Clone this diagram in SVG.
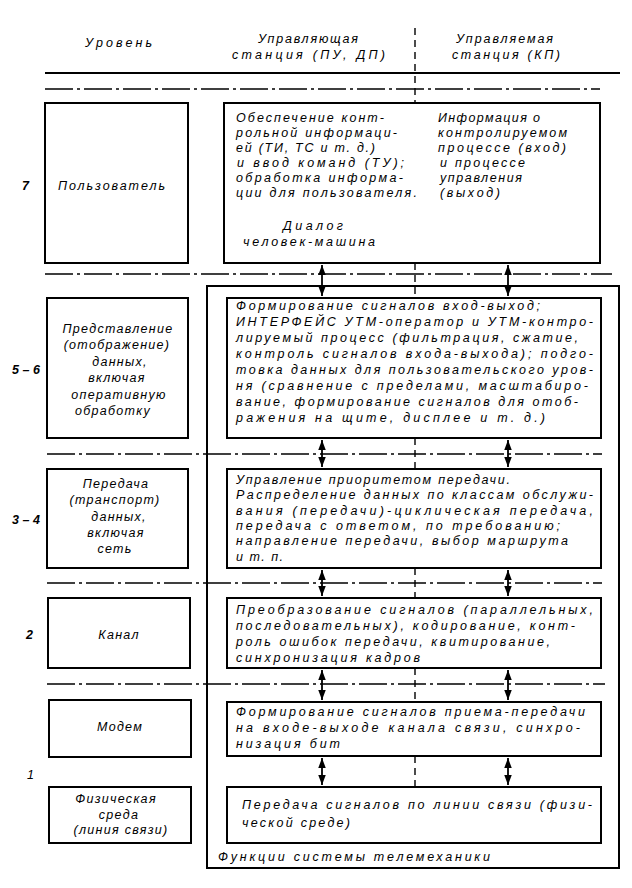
<svg xmlns="http://www.w3.org/2000/svg" width="632" height="888" viewBox="0 0 632 888">
<style>
.bg{fill:#fff}
.box{fill:none;stroke:#000;stroke-width:2}
.sol{stroke:#000;stroke-width:2;fill:none}
.dd{stroke:#000;stroke-width:1.6;stroke-dasharray:28 4 3 4;fill:none}
.ctr{stroke:#000;stroke-width:1.4;stroke-dasharray:7 5;fill:none}
.arr{stroke:#000;stroke-width:1.8;fill:none;marker-start:url(#ah);marker-end:url(#ah)}
.t{font-family:"Liberation Sans",Arial,sans-serif;font-style:italic;font-size:12.5px;fill:#000}
.c{text-anchor:middle;letter-spacing:1.3px}
.lv{font-weight:bold}
</style>
<defs>
<marker id="ah" markerUnits="userSpaceOnUse" markerWidth="10" markerHeight="8" refX="8" refY="3" orient="auto-start-reverse" viewBox="0 0 8 6">
<path d="M0,0 L8,3 L0,6 z" fill="#000"/>
</marker>
</defs>
<rect class="bg" x="0" y="0" width="632" height="888"/>

<g id="header">
<text class="t" x="85" y="47" textLength="67" lengthAdjust="spacing">Уровень</text>
<text class="t" x="258" y="43" textLength="100" lengthAdjust="spacing">Управляющая</text>
<text class="t" x="232" y="59" textLength="153" lengthAdjust="spacing">станция (ПУ, ДП)</text>
<text class="t" x="456" y="43" textLength="97" lengthAdjust="spacing">Управляемая</text>
<text class="t" x="452" y="59" textLength="108" lengthAdjust="spacing">станция (КП)</text>
</g>

<g id="grid">
<line class="sol" x1="45" y1="73" x2="620" y2="73"/>
<line class="dd" x1="45" y1="89" x2="600" y2="89"/>
<line class="dd" x1="45" y1="274" x2="612" y2="274"/>
<line class="dd" x1="47" y1="454" x2="602" y2="454"/>
<line class="dd" x1="47" y1="583" x2="602" y2="583"/>
<line class="dd" x1="47" y1="684" x2="605" y2="684"/>
<line class="ctr" x1="415" y1="28" x2="415" y2="103"/>
<line class="ctr" x1="415" y1="263" x2="415" y2="298"/>
<line class="ctr" x1="415" y1="438" x2="415" y2="469"/>
<line class="ctr" x1="415" y1="568" x2="415" y2="598"/>
<line class="ctr" x1="415" y1="668" x2="415" y2="702"/>
<line class="ctr" x1="415" y1="756" x2="415" y2="787"/>
</g>

<g id="levels">
<text class="t lv" x="22" y="190">7</text>
<text class="t lv" x="12" y="374" textLength="28" lengthAdjust="spacing">5–6</text>
<text class="t lv" x="12" y="524" textLength="28" lengthAdjust="spacing">3–4</text>
<text class="t lv" x="26" y="639">2</text>
<text class="t" x="27" y="779">1</text>
</g>

<g id="left-user">
<rect class="box" x="45" y="103" width="143" height="160"/>
<text class="t" x="58" y="190" textLength="107" lengthAdjust="spacing">Пользователь</text>
</g>
<g id="left-present">
<rect class="box" x="47" y="298" width="141" height="140"/>
<text class="t c" x="118" y="333">Представление</text>
<text class="t c" x="117" y="349">(отображение)</text>
<text class="t c" x="120" y="366">данных,</text>
<text class="t c" x="117" y="382">включая</text>
<text class="t c" x="119" y="399">оперативную</text>
<text class="t c" x="113" y="415">обработку</text>
</g>
<g id="left-transport">
<rect class="box" x="47" y="469" width="141" height="99"/>
<text class="t c" x="116" y="488">Передача</text>
<text class="t c" x="115" y="504">(транспорт)</text>
<text class="t c" x="119" y="521">данных,</text>
<text class="t c" x="116" y="537">включая</text>
<text class="t c" x="115" y="553">сеть</text>
</g>
<g id="left-channel">
<rect class="box" x="48" y="598" width="142" height="70"/>
<text class="t c" x="119" y="639">Канал</text>
</g>
<g id="left-modem">
<rect class="box" x="49" y="700" width="142" height="57"/>
<text class="t c" x="120" y="731">Модем</text>
</g>
<g id="left-phys">
<rect class="box" x="49" y="787" width="142" height="56"/>
<text class="t c" x="116" y="803">Физическая</text>
<text class="t c" x="119" y="819">среда</text>
<text class="t c" x="121" y="834">(линия связи)</text>
</g>

<g id="user-box">
<rect class="box" x="224" y="103" width="376" height="160"/>
<text class="t" x="236" y="122" textLength="148" lengthAdjust="spacing">Обеспечение конт-</text>
<text class="t" x="236" y="137" textLength="161" lengthAdjust="spacing">рольной информаци-</text>
<text class="t" x="236" y="152" textLength="139" lengthAdjust="spacing">ей (ТИ, ТС и т. д.)</text>
<text class="t" x="237" y="167" textLength="167" lengthAdjust="spacing">и ввод команд (ТУ);</text>
<text class="t" x="236" y="182" textLength="167" lengthAdjust="spacing">обработка информа-</text>
<text class="t" x="236" y="197" textLength="181" lengthAdjust="spacing">ции для пользователя.</text>
<text class="t" x="438" y="122" textLength="102" lengthAdjust="spacing">Информация о</text>
<text class="t" x="438" y="137" textLength="129" lengthAdjust="spacing">контролируемом</text>
<text class="t" x="438" y="152" textLength="128" lengthAdjust="spacing">процессе (вход)</text>
<text class="t" x="440" y="167" textLength="85" lengthAdjust="spacing">и процессе</text>
<text class="t" x="440" y="182" textLength="82" lengthAdjust="spacing">управления</text>
<text class="t" x="440" y="197" textLength="60" lengthAdjust="spacing">(выход)</text>
<text class="t" x="283" y="230" textLength="60" lengthAdjust="spacing">Диалог</text>
<text class="t" x="243" y="246" textLength="132" lengthAdjust="spacing">человек-машина</text>
</g>

<g id="functions-frame">
<rect class="box" x="207" y="286" width="412" height="582"/>
<text class="t" x="218" y="861" textLength="272" lengthAdjust="spacing">Функции системы телемеханики</text>
</g>

<g id="fn-present">
<rect class="box" x="227" y="298" width="374" height="140"/>
<text class="t" x="236" y="310" textLength="304" lengthAdjust="spacing">Формирование сигналов вход-выход;</text>
<text class="t" x="236" y="326" textLength="357" lengthAdjust="spacing">ИНТЕРФЕЙС УТМ-оператор и УТМ-контро-</text>
<text class="t" x="236" y="342" textLength="342" lengthAdjust="spacing">лируемый процесс (фильтрация, сжатие,</text>
<text class="t" x="236" y="358" textLength="357" lengthAdjust="spacing">контроль сигналов входа-выхода); подго-</text>
<text class="t" x="236" y="374" textLength="357" lengthAdjust="spacing">товка данных для пользовательского уров-</text>
<text class="t" x="236" y="390" textLength="352" lengthAdjust="spacing">ня (сравнение с пределами, масштабиро-</text>
<text class="t" x="236" y="406" textLength="342" lengthAdjust="spacing">вание, формирование сигналов для отоб-</text>
<text class="t" x="236" y="422" textLength="309" lengthAdjust="spacing">ражения на щите, дисплее и т. д.)</text>
</g>

<g id="fn-transport">
<rect class="box" x="227" y="469" width="374" height="99"/>
<text class="t" x="236" y="484" textLength="274" lengthAdjust="spacing">Управление приоритетом передачи.</text>
<text class="t" x="236" y="499" textLength="357" lengthAdjust="spacing">Распределение данных по классам обслужи-</text>
<text class="t" x="236" y="515" textLength="357" lengthAdjust="spacing">вания (передачи)-циклическая передача,</text>
<text class="t" x="236" y="530" textLength="324" lengthAdjust="spacing">передача с ответом, по требованию;</text>
<text class="t" x="236" y="545" textLength="332" lengthAdjust="spacing">направление передачи, выбор маршрута</text>
<text class="t" x="236" y="561" textLength="47" lengthAdjust="spacing">и т. п.</text>
</g>

<g id="fn-channel">
<rect class="box" x="227" y="598" width="374" height="70"/>
<text class="t" x="236" y="614" textLength="357" lengthAdjust="spacing">Преобразование сигналов (параллельных,</text>
<text class="t" x="236" y="630" textLength="339" lengthAdjust="spacing">последовательных), кодирование, конт-</text>
<text class="t" x="236" y="646" textLength="314" lengthAdjust="spacing">роль ошибок передачи, квитирование,</text>
<text class="t" x="236" y="662" textLength="184" lengthAdjust="spacing">синхронизация кадров</text>
</g>

<g id="fn-modem">
<rect class="box" x="227" y="702" width="374" height="54"/>
<text class="t" x="236" y="716" textLength="349" lengthAdjust="spacing">Формирование сигналов приема-передачи</text>
<text class="t" x="236" y="732" textLength="344" lengthAdjust="spacing">на входе-выходе канала связи, синхро-</text>
<text class="t" x="236" y="748" textLength="104" lengthAdjust="spacing">низация бит</text>
</g>

<g id="fn-phys">
<rect class="box" x="227" y="787" width="374" height="56"/>
<text class="t" x="242" y="809" textLength="350" lengthAdjust="spacing">Передача сигналов по линии связи (физи-</text>
<text class="t" x="242" y="827" textLength="108" lengthAdjust="spacing">ческой среде)</text>
</g>

<g id="connectors">
<line class="arr" x1="322" y1="265" x2="322" y2="296"/>
<line class="arr" x1="508" y1="265" x2="508" y2="296"/>
<line class="arr" x1="322" y1="440" x2="322" y2="467"/>
<line class="arr" x1="508" y1="440" x2="508" y2="467"/>
<line class="arr" x1="322" y1="570" x2="322" y2="596"/>
<line class="arr" x1="508" y1="570" x2="508" y2="596"/>
<line class="arr" x1="322" y1="670" x2="322" y2="700"/>
<line class="arr" x1="508" y1="670" x2="508" y2="700"/>
<line class="arr" x1="322" y1="758" x2="322" y2="785"/>
<line class="arr" x1="508" y1="758" x2="508" y2="785"/>
</g>
</svg>
